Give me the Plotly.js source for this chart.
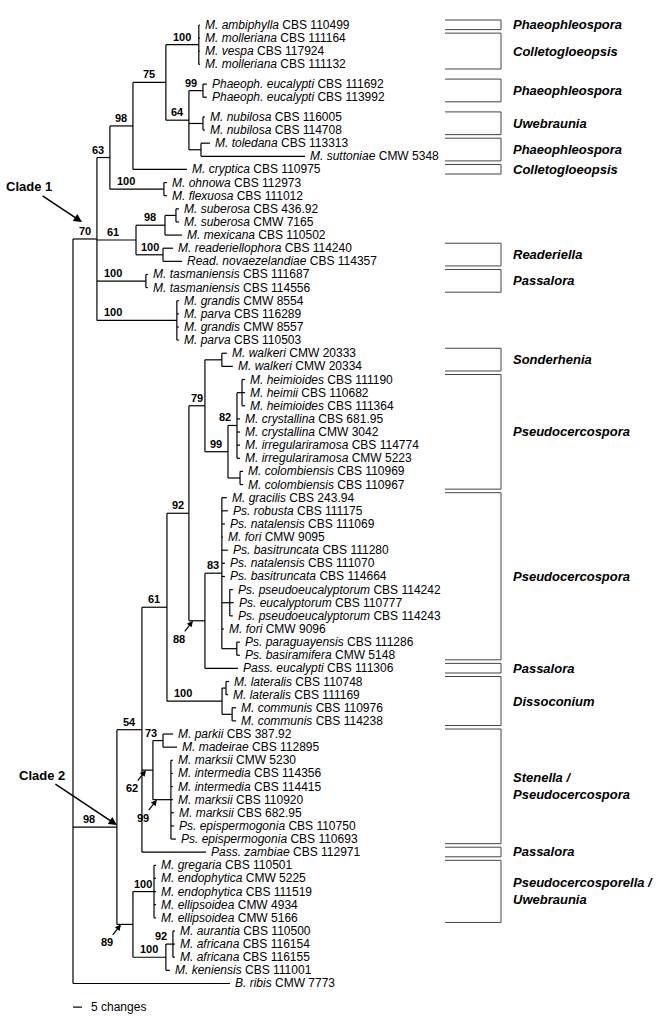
<!DOCTYPE html>
<html>
<head>
<meta charset="utf-8">
<script src="https://cdn.plot.ly/plotly-3.0.1.min.js"></script>
<style>html,body{margin:0;padding:0;background:#fff;}#plot{width:664px;height:1024px;}</style>
</head>
<body>
<div id="plot"></div>
<script>
// ---------------- DATA ----------------
const taxa = [
 "M. ambiphylla","M. molleriana","M. vespa","M. molleriana","Phaeoph. eucalypti","Phaeoph. eucalypti",
 "M. nubilosa","M. nubilosa","M. toledana","M. suttoniae","M. cryptica","M. ohnowa","M. flexuosa",
 "M. suberosa","M. suberosa","M. mexicana","M. readeriellophora","Read. novaezelandiae",
 "M. tasmaniensis","M. tasmaniensis","M. grandis","M. parva","M. grandis","M. parva",
 "M. walkeri","M. walkeri","M. heimioides","M. heimii","M. heimioides","M. crystallina","M. crystallina",
 "M. irregulariramosa","M. irregulariramosa","M. colombiensis","M. colombiensis",
 "M. gracilis","Ps. robusta","Ps. natalensis","M. fori","Ps. basitruncata","Ps. natalensis","Ps. basitruncata",
 "Ps. pseudoeucalyptorum","Ps. eucalyptorum","Ps. pseudoeucalyptorum","M. fori","Ps. paraguayensis","Ps. basiramifera",
 "Pass. eucalypti","M. lateralis","M. lateralis","M. communis","M. communis",
 "M. parkii","M. madeirae","M. marksii","M. intermedia","M. intermedia","M. marksii","M. marksii",
 "Ps. epispermogonia","Ps. epispermogonia","Pass. zambiae",
 "M. gregaria","M. endophytica","M. endophytica","M. ellipsoidea","M. ellipsoidea",
 "M. aurantia","M. africana","M. africana","M. keniensis","B. ribis"
];
const strains = [
 "CBS 110499","CBS 111164","CBS 117924","CBS 111132","CBS 111692","CBS 113992",
 "CBS 116005","CBS 114708","CBS 113313","CMW 5348","CBS 110975","CBS 112973","CBS 111012",
 "CBS 436.92","CMW 7165","CBS 110502","CBS 114240","CBS 114357",
 "CBS 111687","CBS 114556","CMW 8554","CBS 116289","CMW 8557","CBS 110503",
 "CMW 20333","CMW 20334","CBS 111190","CBS 110682","CBS 111364","CBS 681.95","CMW 3042",
 "CBS 114774","CMW 5223","CBS 110969","CBS 110967",
 "CBS 243.94","CBS 111175","CBS 111069","CMW 9095","CBS 111280","CBS 111070","CBS 114664",
 "CBS 114242","CBS 110777","CBS 114243","CMW 9096","CBS 111286","CMW 5148",
 "CBS 111306","CBS 110748","CBS 111169","CBS 110976","CBS 114238",
 "CBS 387.92","CBS 112895","CMW 5230","CBS 114356","CBS 114415","CBS 110920","CBS 682.95",
 "CBS 110750","CBS 110693","CBS 112971",
 "CBS 110501","CMW 5225","CBS 111519","CMW 4934","CMW 5166",
 "CBS 110500","CBS 116154","CBS 116155","CBS 111001","CMW 7773"
];
// Tree topology (leaf = index into taxa), branch lengths in changes, internal labels = bootstrap support ("*" = arrowed label)
const treeNewick = [
 "(",
  "(((((0:0.6,1:0.6,2:0.6,3:0.6)100:18.3,",
  "((4:2.2,5:2.2)99:7.8,(6:1.1,7:1.1):7.8,(8:5.0,9:57.8):6.7)64:12.8)75:18.3,",
  "10:30)98:12.8,(11:1.7,12:1.7)100:30)63:7.2,",
  "(((13:1.7,14:1.7):6.1,15:9.4)98:16.1,(16:5.6,17:10.6)100:15)61:21.7,",
  "(18:1.1,19:1.1)100:27.2,",
  "(20:1.1,21:1.1,22:1.1,23:1.1)100:44.4)70:13.3,",
  "((((((24:2.8,25:6.1):9.4,",
  "(((26:1.7,27:1.7,28:1.7):2.8,29:1.7,30:1.7,31:1.7,32:1.7)82:5,(33:1.7,34:1.7):6.7)99:12.8)79:8.9,",
  "((35:2.8,36:3.3,37:1.7,38:0.6,39:3.3,40:1.7,41:1.7,(42:1.7,43:2.2,44:1.7):4.4,45:1.1,(46:1.7,47:1.7):8.3)83:9.4,",
  "48:18.3)88*:8.9)92:12.2,",
  "((49:1.7,50:1.1):2.2,(51:2.2,52:2.2):5.6)100:30.6)61:13.9,",
  "((53:5.6,54:7.8)73:5.6,(55:1.1,56:1.1,57:1.1,58:1.1,59:1.7,60:1.7,61:2.8)99*:10)62*:6.1,",
  "62:35.6)54:13.9,",
  "((63:1.1,64:1.1,65:1.1,66:1.1,67:1.1)100:11.7,((68:1.1,69:1.1,70:1.1)92:3.9,71:2.2)100:18.3)89*:8.9)98:24.4,",
  "72:87.2",
 ");"
].join("");
const genusNames = ["Phaeophleospora","Colletogloeopsis","Phaeophleospora","Uwebraunia","Phaeophleospora",
 "Colletogloeopsis","Readeriella","Passalora","Sonderhenia","Pseudocercospora","Pseudocercospora",
 "Passalora","Dissoconium","Stenella /\nPseudocercospora","Passalora","Pseudocercosporella /\nUwebraunia"];
const genusFirstLeaf = [0,1,4,6,8,10,16,18,24,26,35,48,49,53,62,63];
const genusLastLeaf  = [0,3,5,7,9,10,17,19,25,34,47,48,52,61,62,67];
const cladeNames = ["Clade 1","Clade 2"];
const scaleBarChanges = 5;
const scaleBarLabel = "5 changes";

// ---------------- LAYOUT HELPERS ----------------
const W = 664, H = 1024;
const PX_PER_CHANGE = 1.8, ROOT_PX = 73, ROW0_PX = 25, ROW_PX = 13.13;
const GAP_AFTER = [3, 5];
const px2x = p => (p - ROOT_PX) / PX_PER_CHANGE;
const px2row = p => (p - ROW0_PX) / ROW_PX;
const x2px = x => ROOT_PX + x * PX_PER_CHANGE;
const rowOf = i => i + 0.5 * GAP_AFTER.filter(g => i > g).length;
const FONT = "Liberation Sans, Arial, Helvetica, sans-serif";

function parseNewick(s) {
  let i = 0;
  function node() {
    const n = { children: [] };
    if (s[i] === '(') {
      i++;
      while (true) {
        n.children.push(node());
        if (s[i] === ',') { i++; continue; }
        break;
      }
      i++; // ')'
    }
    let lab = '';
    while (i < s.length && !':,);'.includes(s[i])) lab += s[i++];
    n.label = lab;
    n.len = 0;
    if (s[i] === ':') {
      i++; let num = '';
      while (i < s.length && !',);'.includes(s[i])) num += s[i++];
      n.len = parseFloat(num);
    }
    return n;
  }
  return node();
}

const root = parseNewick(treeNewick);
const leaves = [];
function place(n, parentX, parent) {
  n.parent = parent;
  n.px = parentX;
  n.x = parentX + n.len;
  if (n.children.length === 0) {
    n.leaf = parseInt(n.label, 10);
    n.row = rowOf(n.leaf);
    leaves.push(n);
  } else {
    n.children.forEach(c => place(c, n.x, n));
    n.row = (n.children[0].row + n.children[n.children.length - 1].row) / 2;
  }
}
place(root, 0, null);

// ---------------- TRACES ----------------
const lx = [], ly = [];
const annotations = [];
function walk(n) {
  if (n.parent) { lx.push(n.px, n.x, null); ly.push(n.row, n.row, null); }
  if (n.children.length) {
    const a = n.children[0], b = n.children[n.children.length - 1];
    lx.push(n.x, n.x, null); ly.push(a.row, b.row, null);
    n.children.forEach(walk);
    if (n.parent && n.label) {
      const arrowed = n.label.endsWith('*');
      const txt = '<b>' + n.label.replace('*', '') + '</b>';
      const sPx = x2px(n.px), ePx = x2px(n.x);
      if (arrowed) {
        annotations.push({ x: px2x(sPx + 4), y: n.row, xref: 'x', yref: 'y', text: txt,
          showarrow: true, ax: -14, ay: 18, arrowhead: 2, arrowsize: 1, arrowwidth: 1.2,
          arrowcolor: '#000', standoff: 0, font: { family: FONT, size: 11, color: '#000' } });
      } else if (ePx - sPx < 15) {
        annotations.push({ x: px2x(ePx - 4), y: n.row, xref: 'x', yref: 'y', text: txt,
          showarrow: false, xanchor: 'right', yanchor: 'bottom',
          font: { family: FONT, size: 11, color: '#000' } });
      } else {
        const cx = Math.min((sPx + ePx) / 2, sPx + 16);
        annotations.push({ x: px2x(cx), y: n.row, xref: 'x', yref: 'y', text: txt,
          showarrow: false, xanchor: 'center', yanchor: 'bottom',
          font: { family: FONT, size: 11, color: '#000' } });
      }
    }
  }
}
walk(root);

// leaf labels
leaves.forEach(n => {
  annotations.push({ x: n.x, y: n.row, xref: 'x', yref: 'y',
    text: '<i>' + taxa[n.leaf] + '</i> ' + strains[n.leaf],
    showarrow: false, xanchor: 'left', yanchor: 'middle', xshift: 3,
    font: { family: FONT, size: 12, color: '#000' } });
});

// clade labels
const cladeNodes = [root.children[0], root.children[1]];
const cladeArrow = [{ xs: -15, ys: 17, ax: -53, ay: -35 }, { xs: 0, ys: 2, ax: -75, ay: -50 }];
cladeNodes.forEach((n, k) => {
  annotations.push({ x: n.x, y: n.row, xref: 'x', yref: 'y', text: '<b>' + cladeNames[k] + '</b>',
    xshift: cladeArrow[k].xs, yshift: cladeArrow[k].ys,
    showarrow: true, ax: cladeArrow[k].ax, ay: cladeArrow[k].ay, arrowhead: 2, arrowsize: 1.1,
    arrowwidth: 1.5, arrowcolor: '#000', standoff: 0,
    font: { family: FONT, size: 13, color: '#000' } });
});

// genus brackets
const bx0 = px2x(445), bx1 = px2x(501), blab = px2x(511);
const gx = [], gy = [];
genusNames.forEach((g, k) => {
  const top = rowOf(genusFirstLeaf[k]) - 0.38, bot = rowOf(genusLastLeaf[k]) + 0.35;
  gx.push(bx0, bx1, bx1, bx0, null); gy.push(top, top, bot, bot, null);
  annotations.push({ x: blab, y: (top + bot) / 2, xref: 'x', yref: 'y',
    text: g.split('\n').map(t => '<b><i>' + t + '</i></b>').join('<br>'),
    showarrow: false, xanchor: 'left', yanchor: 'middle', align: 'left',
    font: { family: FONT, size: 13, color: '#000' } });
});

// scale bar
const sbRow = rowOf(72) + 1.8;
annotations.push({ x: scaleBarChanges, y: sbRow, xref: 'x', yref: 'y', text: scaleBarLabel,
  showarrow: false, xanchor: 'left', yanchor: 'middle', xshift: 7,
  font: { family: FONT, size: 12, color: '#000' } });

const traces = [
  { type: 'scatter', mode: 'lines', x: gx, y: gy, line: { color: '#444', width: 1 }, hoverinfo: 'skip' },
  { type: 'scatter', mode: 'lines', x: lx, y: ly, line: { color: '#000', width: 1.2 }, hoverinfo: 'skip' },
  { type: 'scatter', mode: 'lines', x: [0, scaleBarChanges], y: [sbRow, sbRow], line: { color: '#000', width: 1.2 }, hoverinfo: 'skip' }
];

const layout = {
  width: W, height: H,
  margin: { l: 0, r: 0, t: 0, b: 0 },
  paper_bgcolor: '#fff', plot_bgcolor: '#fff',
  showlegend: false,
  xaxis: { range: [px2x(0), px2x(W)], visible: false, fixedrange: true },
  yaxis: { range: [px2row(H), px2row(0)], visible: false, fixedrange: true },
  annotations: annotations,
  font: { family: FONT }
};
Plotly.newPlot('plot', traces, layout, { displayModeBar: false, staticPlot: true });
</script>
</body>
</html>
